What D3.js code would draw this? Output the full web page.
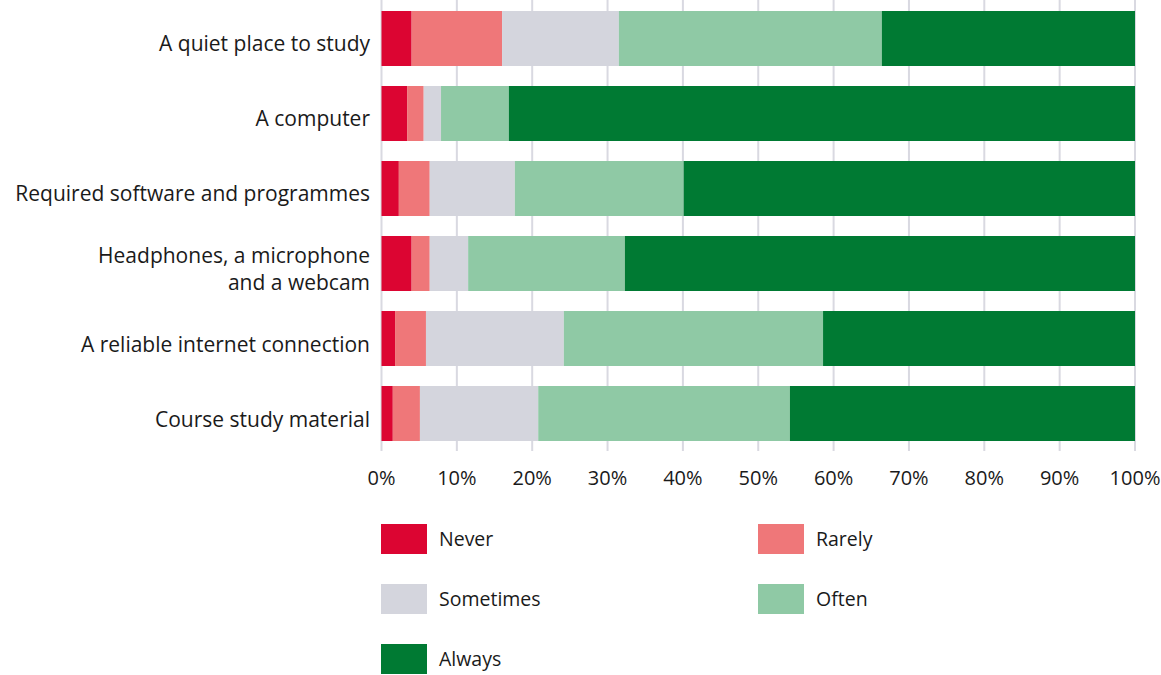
<!DOCTYPE html>
<html>
<head>
<meta charset="utf-8">
<script src="https://cdn.jsdelivr.net/npm/d3@7"></script>
<style>
  html, body { margin: 0; padding: 0; background: #fff; }
  svg { display: block; font-family: "Open Sans", Lato, sans-serif; }
  text { fill: #1a1a1a; }
</style>
</head>
<body>
<svg id="chart" width="1161" height="675"></svg>
<script>
// Survey items (top to bottom)
const categories = [
  "A quiet place to study",
  "A computer",
  "Required software and programmes",
  "Headphones, a microphone\nand a webcam",
  "A reliable internet connection",
  "Course study material"
];

// Response options, in stacking order
const responses = ["Never", "Rarely", "Sometimes", "Often", "Always"];

// Share of respondents per item (%)
const never     = [4.0, 3.4, 2.3, 4.0, 1.8, 1.5];
const rarely    = [12.0, 2.2, 4.1, 2.4, 4.1, 3.6];
const sometimes = [15.5, 2.3, 11.3, 5.1, 18.3, 15.7];
const often     = [34.9, 9.0, 22.4, 20.8, 34.4, 33.4];
const always    = [33.6, 83.1, 59.9, 67.7, 41.4, 45.8];

const xTicks = [0, 10, 20, 30, 40, 50, 60, 70, 80, 90, 100];

const colors = ["#dc0532", "#ef7779", "#d4d5dd", "#8fc9a5", "#007a33"];

const rows = categories.map((c, i) => ({
  category: c,
  Never: never[i],
  Rarely: rarely[i],
  Sometimes: sometimes[i],
  Often: often[i],
  Always: always[i]
}));

const svg = d3.select("#chart");

const x = d3.scaleLinear().domain([0, 100]).range([381.5, 1135]);
const y = d3.scaleBand()
  .domain(categories)
  .range([1, 451])
  .paddingInner(0.2667)
  .paddingOuter(0.1333);
const color = d3.scaleOrdinal().domain(responses).range(colors);

// Vertical gridlines with tick marks running below the plot
svg.append("g")
  .selectAll("line")
  .data(xTicks)
  .join("line")
  .attr("x1", d => x(d)).attr("x2", d => x(d))
  .attr("y1", 0).attr("y2", 451)
  .attr("stroke", "#d9d9e1")
  .attr("stroke-width", 2);

// Stacked bars
const series = d3.stack().keys(responses)(rows);
svg.append("g")
  .selectAll("g")
  .data(series)
  .join("g")
  .attr("fill", d => color(d.key))
  .selectAll("rect")
  .data(d => d)
  .join("rect")
  .attr("x", d => x(d[0]))
  .attr("width", d => x(d[1]) - x(d[0]))
  .attr("y", d => y(d.data.category))
  .attr("height", y.bandwidth());

// X axis tick labels
svg.append("g")
  .selectAll("text")
  .data(xTicks)
  .join("text")
  .attr("x", d => x(d))
  .attr("y", 485)
  .attr("text-anchor", "middle")
  .style("font-size", "20px")
  .text(d => d + "%");

// Category labels (may wrap onto two lines)
const lineGap = 27;
const labels = svg.append("g")
  .selectAll("text")
  .data(categories)
  .join("text")
  .attr("text-anchor", "end")
  .style("font-size", "21px")
  .attr("transform", d => {
    const lines = d.split("\n").length;
    const base = y(d) + y.bandwidth() / 2 + 13 - (lines - 1) * lineGap / 2;
    return `translate(370,${base})`;
  });
labels.selectAll("tspan")
  .data(d => d.split("\n"))
  .join("tspan")
  .attr("x", 0)
  .attr("dy", (d, i) => i === 0 ? 0 : lineGap)
  .text(d => d);

// Legend: two columns
const legend = svg.append("g")
  .selectAll("g")
  .data(responses)
  .join("g")
  .attr("transform", (d, i) => `translate(${i % 2 === 0 ? 381 : 758},${524 + Math.floor(i / 2) * 60})`);
legend.append("rect")
  .attr("width", 46)
  .attr("height", 30)
  .attr("fill", d => color(d));
legend.append("text")
  .attr("x", 58)
  .attr("y", 21.5)
  .style("font-size", "19.5px")
  .text(d => d);
</script>
</body>
</html>
